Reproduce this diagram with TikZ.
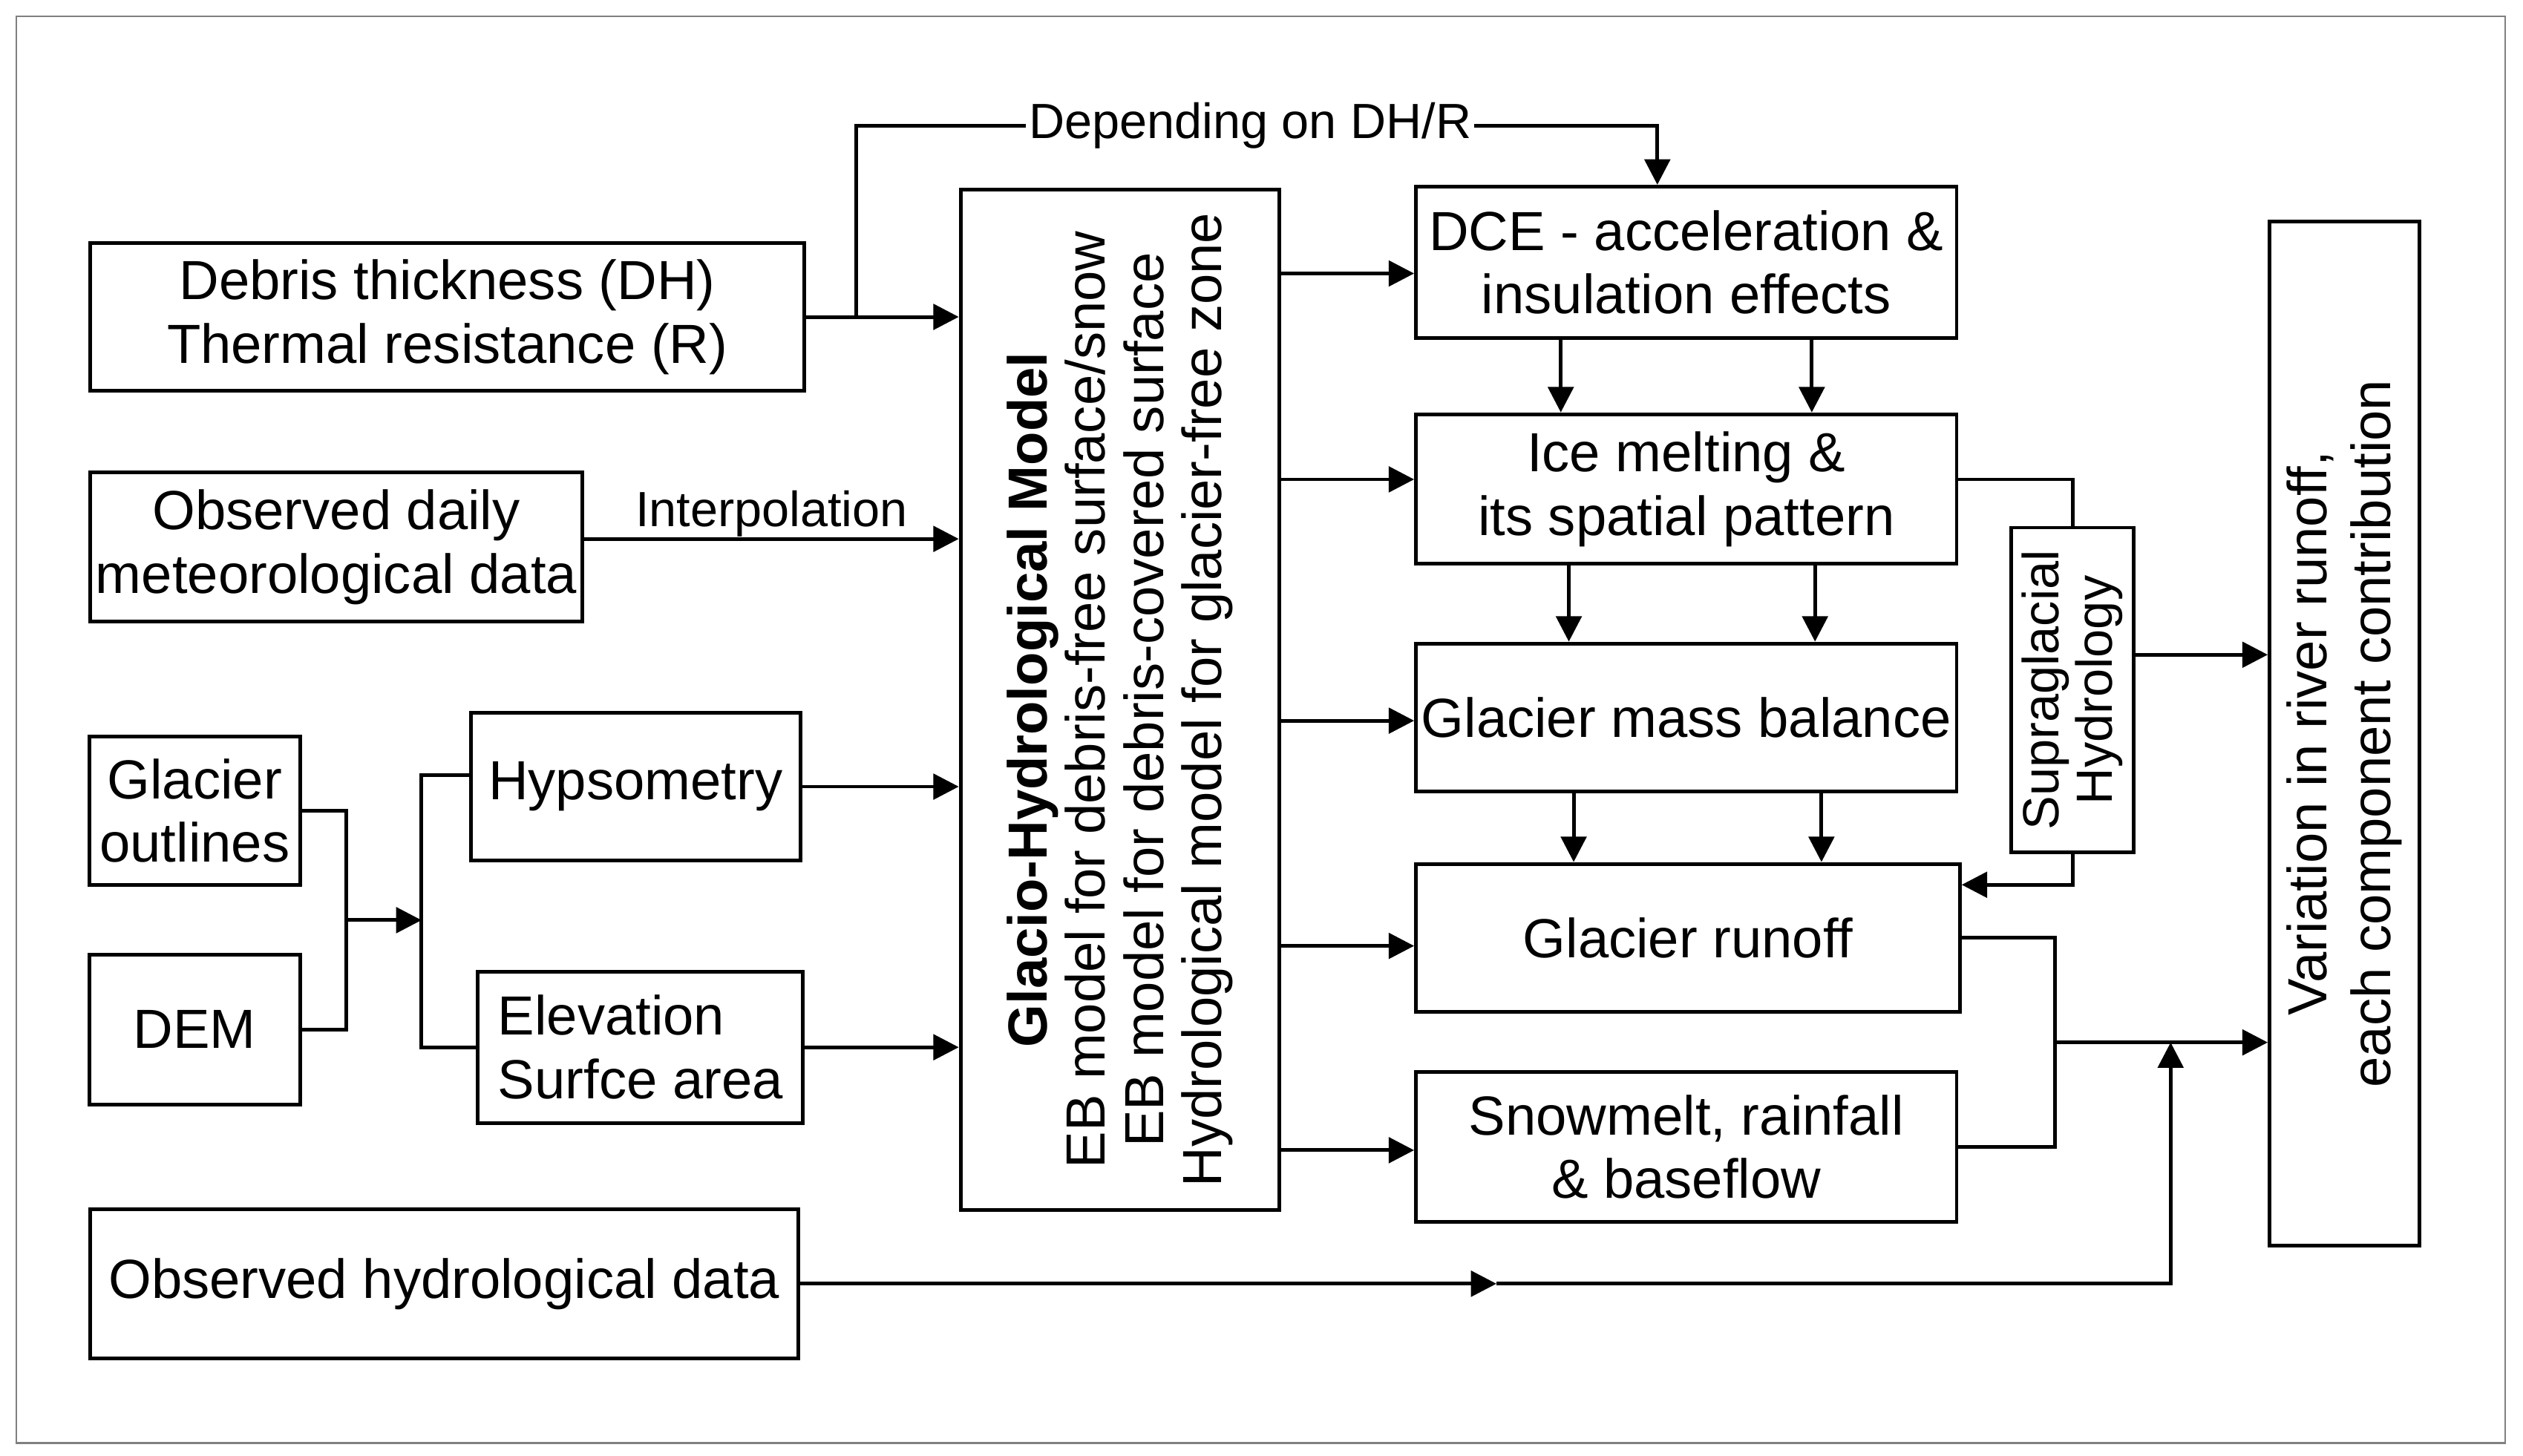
\documentclass[tikz,border=0pt]{standalone}
\usepackage{fontspec}
\setmainfont{Liberation Sans}
\usetikzlibrary{arrows.meta,calc}

\tikzset{
  box/.style={draw, line width=1.3pt, inner sep=0pt, align=center,
    font=\fontsize{19.5}{22.5}\selectfont},
  link/.style={line width=1.3pt},
  arr/.style={link, -{Triangle[length=9pt,width=9pt]}},
}

\begin{document}
\begin{tikzpicture}[x=0.02cm, y=-0.02cm]
    %%Frame
    \useasboundingbox (0,0) rectangle (1568,905);
    \draw[line width=0.6pt, gray] (10,10) rectangle (1557,897);
    %%Inputs
    \node[box, minimum width=444*0.02cm, minimum height=92*0.02cm] (deb) at (278,197) {Debris thickness (DH)\\Thermal resistance (R)};
    \node[box, minimum width=306*0.02cm, minimum height=93*0.02cm] (met) at (209,340) {Observed daily\\meteorological data};
    \node[box, minimum width=131*0.02cm, minimum height=92*0.02cm] (out) at (121,504) {Glacier\\outlines};
    \node[box, minimum width=131*0.02cm, minimum height=93*0.02cm] (dem) at (121,640) {DEM};
    \node[box, minimum width=205*0.02cm, minimum height=92*0.02cm] (hyp) at (395,489) {Hypsometry};
    \node[box, minimum width=202*0.02cm, minimum height=94*0.02cm, align=left] (ele) at (398,651) {Elevation\\Surfce area};
    \node[box, minimum width=440*0.02cm, minimum height=93*0.02cm] (hyd) at (276,798) {Observed hydrological data};
    %%Model
    \node[box, minimum width=198*0.02cm, minimum height=634*0.02cm] (mod) at (696,435) {};
    \node[rotate=90, align=center, font=\fontsize{19.5}{20.5}\selectfont] at (mod.center)
      {\textbf{Glacio-Hydrological Model}\\EB model for debris-free surface/snow\\EB model for debris-covered surface\\Hydrological model for glacier-free zone};
    %%Processes
    \node[box, minimum width=336*0.02cm, minimum height=94*0.02cm] (dce) at (1048,163) {DCE - acceleration \&\\insulation effects};
    \node[box, minimum width=336*0.02cm, minimum height=93*0.02cm] (ice) at (1048,304) {Ice melting \&\\its spatial pattern};
    \node[box, minimum width=336*0.02cm, minimum height=92*0.02cm] (mb) at (1048,446) {Glacier mass balance};
    \node[box, minimum width=338*0.02cm, minimum height=92*0.02cm] (run) at (1049,583) {Glacier runoff};
    \node[box, minimum width=336*0.02cm, minimum height=93*0.02cm] (snow) at (1048,713) {Snowmelt, rainfall\\\& baseflow};
    \node[box, minimum width=76*0.02cm, minimum height=202*0.02cm] (sup) at (1288,429) {};
    \node[rotate=90, align=center, font=\fontsize{18}{19}\selectfont] at (sup.center) {Supraglacial\\Hydrology};
    \node[box, minimum width=93*0.02cm, minimum height=637*0.02cm] (var) at (1457,456) {};
    \node[rotate=90, align=center, font=\fontsize{19.5}{22.5}\selectfont] at (var.center) {Variation in river runoff,\\each component contribution};
    %%Inputs to model
    \draw[arr] (deb.east) -- (deb.east -| mod.west);
    \draw[arr] (532,197) |- (635,78) -| (dce.north -| 1030,0);
    \node[fill=white, inner sep=1pt, font=\fontsize{17.5}{20}\selectfont] (dep) at (777,78) {Depending on DH/R};
    \draw[arr] (met.east |- 0,335) -- (mod.west |- 0,335) node[midway, above, inner sep=0pt, font=\fontsize{17.5}{20}\selectfont] {Interpolation};
    \coordinate (jn) at (215,572);
    \coordinate (sp) at (262,572);
    \draw[link] (out.east) -| (jn) |- (dem.east);
    \draw[arr] (jn) -- (sp);
    \draw[link] (hyp.west |- 0,482) -| (sp) |- (ele.west);
    \draw[arr] (hyp.east) -- (hyp.east -| mod.west);
    \draw[arr] (ele.east) -- (ele.east -| mod.west);
    %%Model to processes
    \foreach \n/\y in {dce/170, ice/298, mb/448, run/588, snow/715}
      \draw[arr] (mod.east |- 0,\y) -- (\n.west |- 0,\y);
    %%Process chain
    \foreach \a/\b/\xa/\xb in {dce/ice/970/1126, ice/mb/975/1128, mb/run/978/1132}{
      \draw[arr] (\a.south -| \xa,0) -- (\b.north -| \xa,0);
      \draw[arr] (\a.south -| \xb,0) -- (\b.north -| \xb,0);
    }
    %%Supraglacial hydrology
    \draw[link] (ice.east |- 0,298) -| (sup.north);
    \draw[arr] (sup.south) |- (run.east |- 0,550);
    \draw[arr] (sup.east |- 0,407) -- (var.west |- 0,407);
    %%Runoff to output
    \coordinate (mg) at (1277,648);
    \draw[link] (run.east) -| (mg) |- (snow.east);
    \draw[arr] (mg) -- (mg -| var.west);
    \coordinate (hm) at (930,798);
    \draw[arr] (hyd.east) -- (hm);
    \draw[arr] (hm) -| (1349,648);
\end{tikzpicture}
\end{document}
